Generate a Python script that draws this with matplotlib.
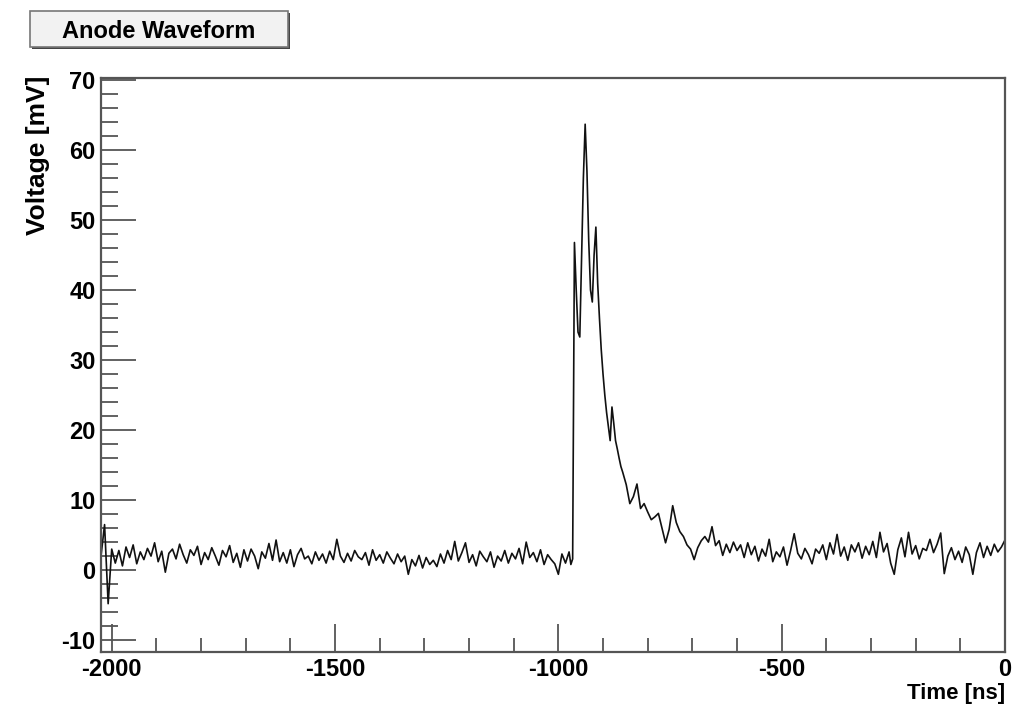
import numpy as np
import matplotlib
matplotlib.use('Agg')
import matplotlib.pyplot as plt
from matplotlib.patches import Rectangle
from matplotlib.ticker import MultipleLocator

plt.rcParams['font.family'] = ['Liberation Sans', 'DejaVu Sans']
plt.rcParams['axes.unicode_minus'] = False

# baseline before the pulse, sampled every 8 ns from -2024 ns
pre_start, pre_step = -2024, 8
pre_mv = [
    2.0, 6.5, -4.8, 3.0, 1.0, 2.8, 0.6, 3.3, 1.8, 3.6,
    0.9, 2.6, 1.5, 3.1, 2.0, 3.9, 1.2, 2.7, -0.3, 2.4,
    3.0, 1.6, 3.7, 2.2, 1.0, 2.9, 2.1, 3.4, 0.8, 2.5,
    1.5, 3.2, 2.0, 0.7, 2.8, 1.9, 3.5, 1.1, 2.4, 0.4,
    2.9, 1.3, 3.0, 2.0, 0.2, 2.6, 1.7, 3.8, 1.4, 4.3,
    1.2, 2.5, 1.0, 2.9, 0.5, 2.2, 3.1, 1.6, 2.0, 0.9,
    2.6, 1.4, 2.3, 1.0, 2.7, 1.5, 4.4, 2.0, 1.1, 2.4,
    1.3, 2.8, 1.9, 1.5, 2.5, 0.7, 2.9, 1.4, 2.2, 1.0,
    2.6, 1.7, 0.9, 2.3, 1.2, 2.0, -0.6, 1.5, 0.6, 2.1,
    0.3, 1.8, 0.8, 1.4, 0.5, 2.3, 1.0, 2.8, 1.5, 4.1,
    1.3, 2.5, 3.9, 1.1, 2.2, 0.6, 2.7, 1.9, 1.2, 2.6,
    0.4, 2.0, 1.3, 2.8, 1.0, 2.4, 1.6, 3.1, 0.9, 4.0,
    1.8, 2.5, 1.2, 2.9, 0.8, 2.2, 1.5, 0.9, -0.6, 2.3,
    1.0, 2.6,
]

# the pulse itself, every 4 ns from -972 ns
pulse_start, pulse_step = -972, 4
pulse_mv = [
    0.8, 1.6, 46.8, 40.0, 34.0, 33.3, 45.0, 56.0, 63.7, 57.0,
    47.0, 40.0, 38.3, 45.0, 49.0, 41.0, 36.0, 31.5, 28.0, 25.0,
    22.5, 20.5, 18.5, 23.3, 21.0, 18.5, 17.3, 16.0, 14.8,
]

# tail and baseline after the pulse, every 8 ns from -856 ns to 0
post_start, post_step = -856, 8
post_mv = [
    14.0, 12.2, 9.5, 10.5, 12.3, 8.8, 9.5, 8.3, 7.2, 7.6,
    8.1, 6.0, 3.9, 5.8, 9.2, 6.8, 5.5, 4.8, 3.6, 3.0,
    1.5, 3.2, 4.2, 4.8, 4.0, 6.2, 3.5, 4.2, 2.1, 3.7,
    2.5, 4.0, 2.8, 3.6, 1.8, 3.9, 2.2, 3.4, 1.3, 3.0,
    2.0, 4.4, 1.2, 2.6, 1.9, 3.3, 0.7, 2.8, 5.2, 2.4,
    1.6, 3.1, 2.2, 0.9, 3.0, 2.4, 3.6, 1.5, 3.9, 2.3,
    5.1, 2.0, 3.3, 1.4, 3.6, 2.6, 3.9, 1.7, 3.4, 2.2,
    4.1, 1.8, 5.4, 2.6, 3.8, 1.0, -0.6, 2.9, 4.6, 1.9,
    5.4, 2.3, 3.5, 1.6, 3.1, 2.8, 4.4, 2.5, 3.7, 5.3,
    -0.5, 2.0, 3.2, 1.5, 2.7, 1.1, 3.3, 2.2, -0.6, 2.5,
    3.9, 1.8, 3.4, 2.1, 3.7, 2.6, 3.3, 4.3,
]

t = np.concatenate([
    pre_start + pre_step * np.arange(len(pre_mv)),
    pulse_start + pulse_step * np.arange(len(pulse_mv)),
    post_start + post_step * np.arange(len(post_mv)),
])
v = np.concatenate([pre_mv, pulse_mv, post_mv])

W, H = 1030, 709
fig = plt.figure(figsize=(W / 100, H / 100), dpi=100)
ax = fig.add_axes([101 / W, 1 - 652 / H, (1005 - 101) / W, (652 - 78) / H])

ax.plot(t, v, color='#111111', lw=1.2)

ax.set_xlim(-2024, 0)
ax.set_ylim(-11.7, 70.3)
ax.xaxis.set_major_locator(MultipleLocator(500))
ax.xaxis.set_minor_locator(MultipleLocator(100))
ax.yaxis.set_major_locator(MultipleLocator(10))
ax.yaxis.set_minor_locator(MultipleLocator(2))

frame = '#555555'
for s in ax.spines.values():
    s.set_color(frame)
    s.set_linewidth(1.6)
ax.tick_params(which='both', direction='in', color=frame, top=False, right=False,
               labelsize=17, width=1.3)
ax.tick_params(axis='y', which='major', length=25, pad=4)
ax.tick_params(axis='y', which='minor', length=12)
ax.tick_params(axis='x', which='major', length=20, pad=4)
ax.tick_params(axis='x', which='minor', length=10)
for lab in ax.get_xticklabels() + ax.get_yticklabels():
    lab.set_fontweight('bold')

fig.text(1005 / W, 1 - 694 / H, 'Time [ns]', ha='right', va='center',
         fontsize=16, fontweight='bold')
fig.text(38 / W, 1 - 76 / H, 'Voltage [mV]', ha='center', va='top', rotation=90,
         fontsize=19, fontweight='bold')

# title box with a small shadow, ROOT style
fig.patches.append(Rectangle((32 / W, 1 - 49 / H), 258 / W, 36 / H,
                             transform=fig.transFigure, facecolor='#444444',
                             edgecolor='none'))
fig.patches.append(Rectangle((30 / W, 1 - 47 / H), 258 / W, 36 / H,
                             transform=fig.transFigure, facecolor='#f2f2f2',
                             edgecolor='#777777', linewidth=1.2))
fig.text(159 / W, 1 - 32 / H, 'Anode Waveform', ha='center', va='center',
         fontsize=17, fontweight='bold')

fig.savefig('out.png', dpi=100)
